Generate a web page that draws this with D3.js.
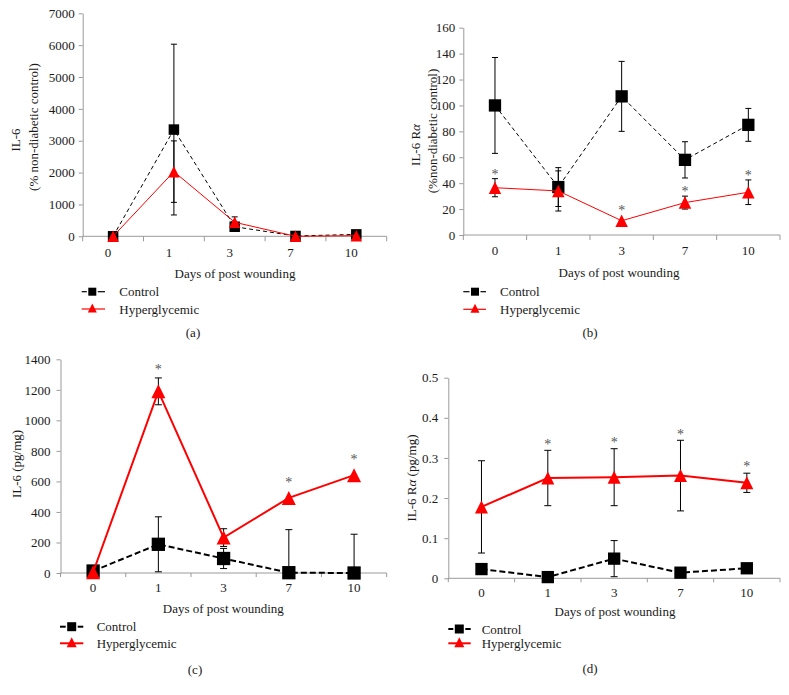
<!DOCTYPE html>
<html><head><meta charset="utf-8">
<script src="https://cdn.jsdelivr.net/npm/d3@7"></script>
<style>
body{margin:0;background:#fff;}
text{font-family:"Liberation Serif","Times New Roman",serif;fill:#1a1a1a;}
</style></head>
<body><svg id="c" width="789" height="695"></svg>
<script>
// ---------- DATA ----------
const days = ["0", "1", "3", "7", "10"];
const seriesNames = ["Control", "Hyperglycemic"];
const xTitle = "Days of post wounding";

// (a) IL-6 (% non-diabetic control)
const aTicks = [0, 1000, 2000, 3000, 4000, 5000, 6000, 7000];
const aControl = [0, 3350, 300, 10, 60];
const aControlErr = [0, 2680, 100, 0, 0];
const aHyper = [0, 2030, 440, 0, 20];
const aHyperErr = [0, 965, 170, 0, 0];
const aSig = [false, false, false, false, false];

// (b) IL-6 Rα (%non-diabetic control)
const bTicks = [0, 20, 40, 60, 80, 100, 120, 140, 160];
const bControl = [100, 37, 107, 58, 85];
const bControlErr = [37, 15, 27, 14, 12.7];
const bHyper = [36.5, 34, 11, 25, 33];
const bHyperErr = [7, 15.5, 0, 5, 9.5];
const bSig = [true, false, true, true, true];

// (c) IL-6 (pg/mg)
const cTicks = [0, 200, 400, 600, 800, 1000, 1200, 1400];
const cControl = [13, 188, 95, 2, 0];
const cControlErr = [0, 180, 66, 282, 254];
const cHyper = [5, 1190, 232, 492, 641];
const cHyperErr = [0, 88, 58, 0, 0];
const cSig = [false, true, false, true, true];

// (d) IL-6 Rα (pg/mg)
const dTicks = [0, 0.1, 0.2, 0.3, 0.4, 0.5];
const dControl = [0.023, 0.003, 0.049, 0.014, 0.025];
const dControlErr = [0, 0, 0.045, 0, 0];
const dHyper = [0.178, 0.250, 0.252, 0.256, 0.238];
const dHyperErr = [0.115, 0.069, 0.071, 0.088, 0.024];
const dSig = [false, true, true, true, true];

// ---------- LAYOUT ----------
const svg = d3.select("#c");
const RED = "#ff0000";
const AXIS = "#9a9a9a";

const panels = [
  {letter:"(a)", ticks:aTicks, ctrl:aControl, ctrlErr:aControlErr, hyp:aHyper, hypErr:aHyperErr, sig:aSig,
   x0:82.7, x1:386.7, yTop:13.3, yBot:236.3, tickLabX:-8, xLabY:256.5, xLabOff:-5,
   yLabels:[{t:"IL-6", x:15.5, y:140},{t:"(% non-diabetic control)", x:33.5, y:127}],
   titleX:235, titleY:278, legX0:81.7, legX1:105, legM:92.3, legY:[291.7,309], legTX:119.3,
   letterX:193, letterY:337, sq:10.5, tri:11.5, lw:1, dash:"4,3", legSq:8, legTri:9, gap:6, xTick:5},
  {letter:"(b)", ticks:bTicks, ctrl:bControl, ctrlErr:bControlErr, hyp:bHyper, hypErr:bHyperErr, sig:bSig,
   x0:463.3, x1:780, yTop:27.7, yBot:235, tickLabX:-8, xLabY:255, xLabOff:0,
   yLabels:[{t:"IL-6 R", alpha:true, x:415, y:145},{t:"(%non-diabetic control)", x:432, y:131}],
   titleX:619, titleY:276.5, legX0:463.3, legX1:486, legM:475, legY:[291.7,309.3], legTX:500,
   letterX:590, letterY:337, sq:12.3, tri:12.5, lw:1, dash:"4,3", legSq:8, legTri:9, gap:6.5, xTick:5},
  {letter:"(c)", ticks:cTicks, ctrl:cControl, ctrlErr:cControlErr, hyp:cHyper, hypErr:cHyperErr, sig:cSig,
   x0:60.5, x1:386.7, yTop:359.3, yBot:573, tickLabX:-10, xLabY:591.5, xLabOff:0,
   yLabels:[{t:"IL-6 (pg/mg)", x:16.7, y:464}],
   titleX:223.3, titleY:613, legX0:60, legX1:83.3, legM:71.7, legY:[626.7,643.3], legTX:96.7,
   letterX:195, letterY:674, sq:13.3, tri:14, lw:2, dash:"6,3", legSq:9, legTri:10, gap:10.5, xTick:4},
  {letter:"(d)", ticks:dTicks, ctrl:dControl, ctrlErr:dControlErr, hyp:dHyper, hypErr:dHyperErr, sig:dSig,
   x0:448.3, x1:780, yTop:377.7, yBot:578.3, tickLabX:-10, xLabY:597, xLabOff:0,
   yLabels:[{t:"IL-6 R", alpha:true, suffix:" (pg/mg)", x:411.7, y:478}],
   titleX:615, titleY:616, legX0:448.3, legX1:470.7, legM:459.3, legY:[629,643.3], legTX:481.7,
   letterX:590, letterY:673, sq:12.3, tri:13, lw:2, dash:"6,3", legSq:9, legTri:10, gap:8.5, xTick:4}
];

function triPath(cx, cy, s){
  return `M${cx},${cy - s/2}L${cx + s/2},${cy + s/2}L${cx - s/2},${cy + s/2}Z`;
}

panels.forEach(p => {
  const g = svg.append("g");
  const x = d3.scaleBand().domain(days).range([p.x0, p.x1]).paddingInner(0).paddingOuter(0);
  const cx = d => x(d) + x.bandwidth()/2;
  const maxV = p.ticks[p.ticks.length - 1];
  const y = d3.scaleLinear().domain([0, maxV]).range([p.yBot, p.yTop]);

  // Y axis
  const fmt = maxV < 1 ? (v => v === 0 ? "0" : d3.format(".1f")(v)) : d3.format("d");
  const yAxis = g.append("g").attr("transform", `translate(${p.x0},0)`)
    .call(d3.axisLeft(y).tickValues(p.ticks).tickSize(4).tickSizeOuter(0).tickPadding(-p.tickLabX - 4).tickFormat(fmt));
  yAxis.selectAll("path,line").attr("stroke", AXIS);
  yAxis.selectAll("text").style("font-size", "13px").attr("fill", "#1a1a1a")
    .style("font-family", "Liberation Serif");

  // X axis
  const xa = g.append("g");
  xa.append("line").attr("x1", p.x0).attr("x2", p.x1).attr("y1", y(0)).attr("y2", y(0)).attr("stroke", AXIS);
  const bounds = days.map(d => x(d)).concat([p.x1]);
  xa.selectAll(".xt").data(bounds).join("line")
    .attr("x1", d => d).attr("x2", d => d).attr("y1", y(0)).attr("y2", y(0) + p.xTick).attr("stroke", AXIS);
  xa.selectAll(".xl").data(days).join("text")
    .attr("x", d => cx(d) + p.xLabOff).attr("y", p.xLabY).attr("text-anchor", "middle")
    .style("font-size", "13px").text(d => d);

  // Axis titles
  g.append("text").attr("x", p.titleX).attr("y", p.titleY).attr("text-anchor", "middle")
    .style("font-size", "13px").text(xTitle);
  p.yLabels.forEach(l => {
    const t = g.append("text").attr("transform", `translate(${l.x},${l.y}) rotate(-90)`)
      .attr("text-anchor", "middle").attr("dy", "0.35em").style("font-size", "13px");
    t.append("tspan").text(l.t);
    if (l.alpha) t.append("tspan").style("font-style", "italic").text("α");
    if (l.suffix) t.append("tspan").text(l.suffix);
  });

  // Error bars
  function errBars(vals, errs){
    const cap = p.lw > 1 ? 7 : 6;
    days.forEach((d, i) => {
      const e = errs[i]; if (!e) return;
      const v = vals[i];
      const top = v + e, bot = Math.max(0, v - e);
      g.append("line").attr("x1", cx(d)).attr("x2", cx(d)).attr("y1", y(top)).attr("y2", y(bot))
        .attr("stroke", "#000").attr("stroke-width", 1);
      g.append("line").attr("x1", cx(d) - cap/2).attr("x2", cx(d) + cap/2).attr("y1", y(top)).attr("y2", y(top))
        .attr("stroke", "#000").attr("stroke-width", 1);
      if (v - e >= 0) g.append("line").attr("x1", cx(d) - cap/2).attr("x2", cx(d) + cap/2)
        .attr("y1", y(bot)).attr("y2", y(bot)).attr("stroke", "#000").attr("stroke-width", 1);
    });
  }
  const line = d3.line().x((v, i) => cx(days[i])).y(v => y(v));

  // Control
  errBars(p.ctrl, p.ctrlErr);
  g.append("path").datum(p.ctrl).attr("d", line).attr("fill", "none").attr("stroke", "#000")
    .attr("stroke-width", p.lw).attr("stroke-dasharray", p.dash);
  g.selectAll(".sq").data(p.ctrl).join("rect")
    .attr("x", (v, i) => cx(days[i]) - p.sq/2).attr("y", v => y(v) - p.sq/2)
    .attr("width", p.sq).attr("height", p.sq).attr("fill", "#000");

  // Hyperglycemic
  errBars(p.hyp, p.hypErr);
  g.append("path").datum(p.hyp).attr("d", line).attr("fill", "none").attr("stroke", RED)
    .attr("stroke-width", p.lw);
  g.selectAll(".tr").data(p.hyp).join("path")
    .attr("d", (v, i) => triPath(cx(days[i]), y(v), p.tri)).attr("fill", RED);

  // Significance stars
  days.forEach((d, i) => {
    if (!p.sig[i]) return;
    const v = p.hyp[i], e = p.hypErr[i];
    const topY = Math.min(y(v + e), y(v) - p.tri/2);
    const c = topY - p.gap;
    g.append("text").attr("x", cx(d)).attr("y", c + 0.48*14).attr("text-anchor", "middle")
      .style("font-size", "14px").attr("fill", "#555").style("fill", "#555").text("*");
  });

  // Legend
  const ly0 = p.legY[0], ly1 = p.legY[1];
  g.append("line").attr("x1", p.legX0).attr("x2", p.legM - p.legSq/2 - 1.5).attr("y1", ly0).attr("y2", ly0)
    .attr("stroke", "#000").attr("stroke-width", p.lw > 1 ? 2 : 1.2);
  g.append("line").attr("x1", p.legM + p.legSq/2 + 1.5).attr("x2", p.legX1).attr("y1", ly0).attr("y2", ly0)
    .attr("stroke", "#000").attr("stroke-width", p.lw > 1 ? 2 : 1.2);
  g.append("rect").attr("x", p.legM - p.legSq/2).attr("y", ly0 - p.legSq/2)
    .attr("width", p.legSq).attr("height", p.legSq).attr("fill", "#000");
  g.append("line").attr("x1", p.legX0).attr("x2", p.legX1).attr("y1", ly1).attr("y2", ly1)
    .attr("stroke", RED).attr("stroke-width", p.lw > 1 ? 2 : 1.2);
  g.append("path").attr("d", triPath(p.legM, ly1 - 1, p.legTri)).attr("fill", RED);
  g.append("text").attr("x", p.legTX).attr("y", ly0).attr("dy", "0.35em").style("font-size", "13px").text(seriesNames[0]);
  g.append("text").attr("x", p.legTX).attr("y", ly1).attr("dy", "0.35em").style("font-size", "13px").text(seriesNames[1]);

  // Panel letter
  g.append("text").attr("x", p.letterX).attr("y", p.letterY).attr("text-anchor", "middle")
    .style("font-size", "13px").text(p.letter);
});
</script></body></html>
